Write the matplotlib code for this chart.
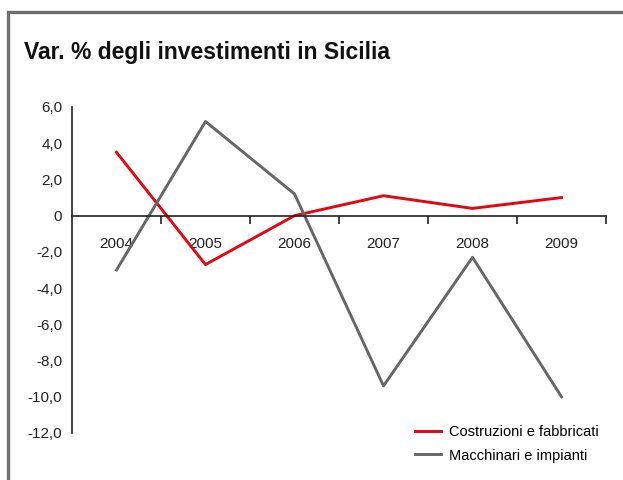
import matplotlib
matplotlib.use("Agg")
import matplotlib.pyplot as plt
from matplotlib.patches import Rectangle
from matplotlib.ticker import FixedLocator, FuncFormatter

plt.rcParams['font.family'] = ['Liberation Sans', 'DejaVu Sans']

years = ['2004', '2005', '2006', '2007', '2008', '2009']
costruzioni = [3.5, -2.7, 0.0, 1.1, 0.4, 1.0]
macchinari = [-3.0, 5.2, 1.2, -9.4, -2.3, -10.0]
y_ticks = [6, 4, 2, 0, -2, -4, -6, -8, -10, -12]

fig = plt.figure(figsize=(6.23, 4.8), dpi=100)

# grey frame around the panel (open on right and bottom)
frame = Rectangle((8 / 623, -0.05), 1.0, 1 - 12 / 480 + 0.05, transform=fig.transFigure,
                  fill=False, edgecolor='#707070', linewidth=2.4)
fig.patches.append(frame)

fig.text(24 / 623, 1 - 52 / 480, 'Var. % degli investimenti in Sicilia',
         fontsize=16.5, fontweight='bold', va='center', ha='left', color='#111111')

ax = fig.add_axes([72 / 623, 1 - 433 / 480, 534 / 623, 326 / 480])
x = list(range(len(years)))
ax.plot(x, costruzioni, color='#e30613', linewidth=2.1, label='Costruzioni e fabbricati')
ax.plot(x, macchinari, color='#666666', linewidth=2.1, label='Macchinari e impianti')

ax.set_xlim(-0.5, len(years) - 0.5)
ax.set_ylim(-12, 6)

for side in ['top', 'right']:
    ax.spines[side].set_visible(False)
ax.spines['bottom'].set_position(('data', 0))
ax.spines['left'].set_color('#222222')
ax.spines['bottom'].set_color('#222222')
ax.spines['left'].set_linewidth(1.2)
ax.spines['bottom'].set_linewidth(1.2)

ax.set_xticks(x)
ax.set_xticklabels(years)
ax.xaxis.set_minor_locator(FixedLocator([i + 0.5 for i in x]))
ax.tick_params(axis='x', which='major', length=0, pad=15, labelsize=11, labelcolor='#222222')
ax.tick_params(axis='x', which='minor', length=6, width=1.2, direction='out', color='#222222')

ax.set_yticks(y_ticks)
ax.yaxis.set_major_formatter(FuncFormatter(lambda v, p: '0' if v == 0 else f'{v:.1f}'.replace('.', ',')))
ax.tick_params(axis='y', length=0, pad=7, labelsize=11, labelcolor='#222222')

fig.legend(*ax.get_legend_handles_labels(), loc='center left',
           bbox_to_anchor=(415 / 623, 1 - 444 / 480), frameon=False, fontsize=10.5,
           borderpad=0, borderaxespad=0, handlelength=1.8, handletextpad=0.55,
           labelspacing=0.62)

fig.savefig('out.png', dpi=100)
